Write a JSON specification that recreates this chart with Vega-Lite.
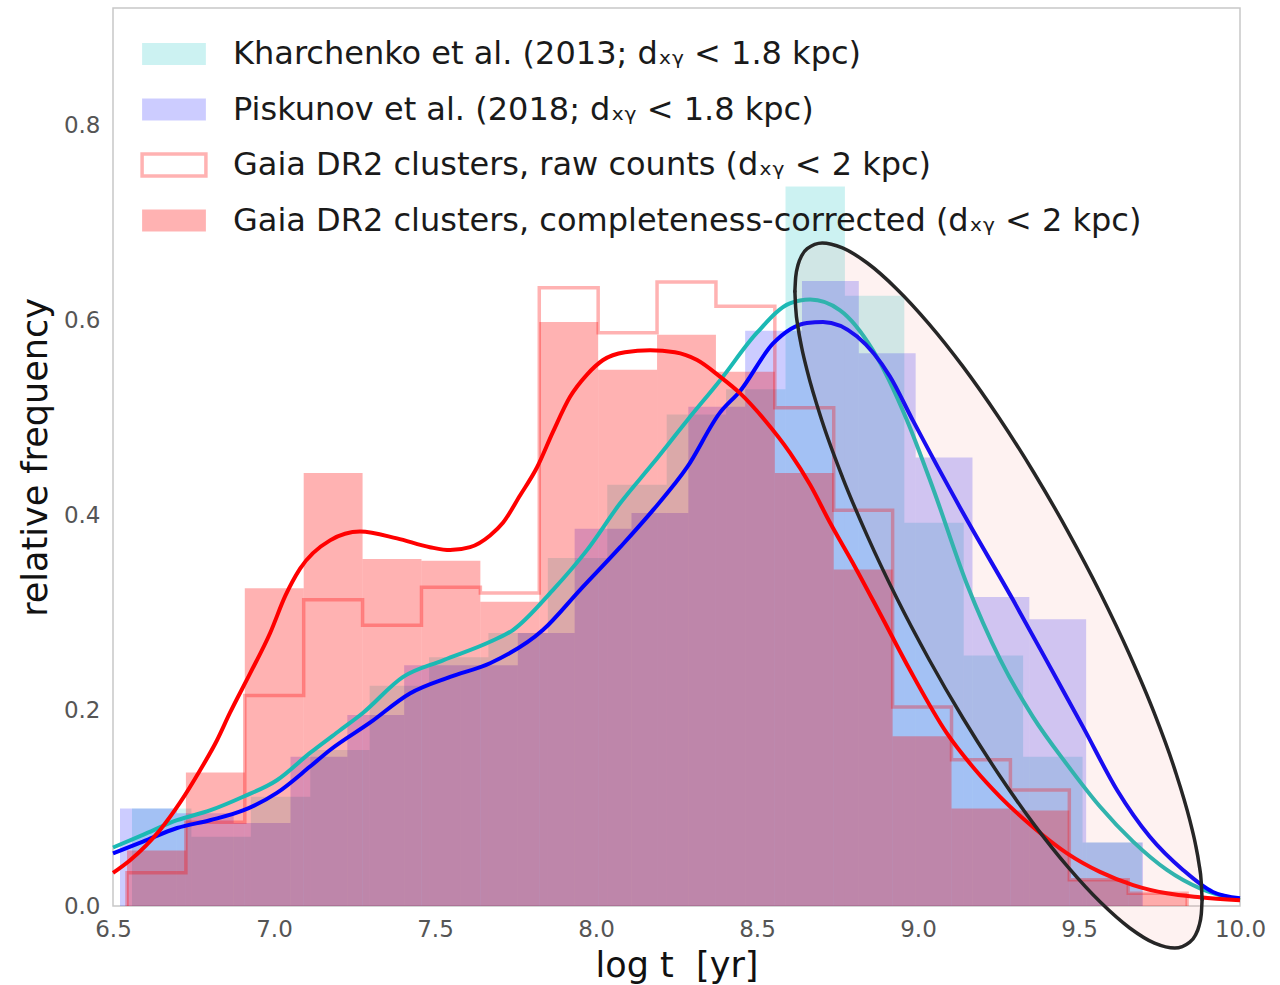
{
  "$schema": "https://vega.github.io/schema/vega-lite/v6.json",
  "width": 1127,
  "height": 898,
  "autosize": {"type": "none"},
  "padding": {"left": 113, "top": 8, "right": 40, "bottom": 79},
  "background": "white",
  "config": {
    "view": {"stroke": "#c8c8c8", "strokeWidth": 1.5},
    "axis": {"grid": false, "ticks": false, "domain": false, "labelFont": "DejaVu Sans", "labelFontSize": 23, "labelColor": "#555555", "titleFont": "DejaVu Sans", "titleFontSize": 35, "titleFontWeight": "normal", "titleColor": "#111111", "labelFlush": false, "labelOverlap": false}
  },
  "datasets": {
    "hist": [
      {"s": "Kharchenko et al. (2013; dₓᵧ < 1.8 kpc)", "lt": 6.559, "lt2": 6.7435, "f": 0.100},
      {"s": "Kharchenko et al. (2013; dₓᵧ < 1.8 kpc)", "lt": 6.7435, "lt2": 6.928, "f": 0.071},
      {"s": "Kharchenko et al. (2013; dₓᵧ < 1.8 kpc)", "lt": 6.928, "lt2": 7.1125, "f": 0.112},
      {"s": "Kharchenko et al. (2013; dₓᵧ < 1.8 kpc)", "lt": 7.1125, "lt2": 7.297, "f": 0.160},
      {"s": "Kharchenko et al. (2013; dₓᵧ < 1.8 kpc)", "lt": 7.297, "lt2": 7.4815, "f": 0.226},
      {"s": "Kharchenko et al. (2013; dₓᵧ < 1.8 kpc)", "lt": 7.4815, "lt2": 7.666, "f": 0.255},
      {"s": "Kharchenko et al. (2013; dₓᵧ < 1.8 kpc)", "lt": 7.666, "lt2": 7.8505, "f": 0.280},
      {"s": "Kharchenko et al. (2013; dₓᵧ < 1.8 kpc)", "lt": 7.8505, "lt2": 8.035, "f": 0.357},
      {"s": "Kharchenko et al. (2013; dₓᵧ < 1.8 kpc)", "lt": 8.035, "lt2": 8.2195, "f": 0.432},
      {"s": "Kharchenko et al. (2013; dₓᵧ < 1.8 kpc)", "lt": 8.2195, "lt2": 8.404, "f": 0.504},
      {"s": "Kharchenko et al. (2013; dₓᵧ < 1.8 kpc)", "lt": 8.404, "lt2": 8.5885, "f": 0.530},
      {"s": "Kharchenko et al. (2013; dₓᵧ < 1.8 kpc)", "lt": 8.5885, "lt2": 8.773, "f": 0.738},
      {"s": "Kharchenko et al. (2013; dₓᵧ < 1.8 kpc)", "lt": 8.773, "lt2": 8.9575, "f": 0.626},
      {"s": "Kharchenko et al. (2013; dₓᵧ < 1.8 kpc)", "lt": 8.9575, "lt2": 9.142, "f": 0.393},
      {"s": "Kharchenko et al. (2013; dₓᵧ < 1.8 kpc)", "lt": 9.142, "lt2": 9.3265, "f": 0.257},
      {"s": "Kharchenko et al. (2013; dₓᵧ < 1.8 kpc)", "lt": 9.3265, "lt2": 9.511, "f": 0.153},
      {"s": "Kharchenko et al. (2013; dₓᵧ < 1.8 kpc)", "lt": 9.511, "lt2": 9.6955, "f": 0.065},
      {"s": "Piskunov et al. (2018; dₓᵧ < 1.8 kpc)", "lt": 6.5217, "lt2": 6.6982, "f": 0.100},
      {"s": "Piskunov et al. (2018; dₓᵧ < 1.8 kpc)", "lt": 6.6982, "lt2": 6.8747, "f": 0.095},
      {"s": "Piskunov et al. (2018; dₓᵧ < 1.8 kpc)", "lt": 6.8747, "lt2": 7.0512, "f": 0.085},
      {"s": "Piskunov et al. (2018; dₓᵧ < 1.8 kpc)", "lt": 7.0512, "lt2": 7.2277, "f": 0.153},
      {"s": "Piskunov et al. (2018; dₓᵧ < 1.8 kpc)", "lt": 7.2277, "lt2": 7.4042, "f": 0.196},
      {"s": "Piskunov et al. (2018; dₓᵧ < 1.8 kpc)", "lt": 7.4042, "lt2": 7.5807, "f": 0.247},
      {"s": "Piskunov et al. (2018; dₓᵧ < 1.8 kpc)", "lt": 7.5807, "lt2": 7.7572, "f": 0.247},
      {"s": "Piskunov et al. (2018; dₓᵧ < 1.8 kpc)", "lt": 7.7572, "lt2": 7.9337, "f": 0.280},
      {"s": "Piskunov et al. (2018; dₓᵧ < 1.8 kpc)", "lt": 7.9337, "lt2": 8.1102, "f": 0.387},
      {"s": "Piskunov et al. (2018; dₓᵧ < 1.8 kpc)", "lt": 8.1102, "lt2": 8.2867, "f": 0.403},
      {"s": "Piskunov et al. (2018; dₓᵧ < 1.8 kpc)", "lt": 8.2867, "lt2": 8.4632, "f": 0.512},
      {"s": "Piskunov et al. (2018; dₓᵧ < 1.8 kpc)", "lt": 8.4632, "lt2": 8.6397, "f": 0.590},
      {"s": "Piskunov et al. (2018; dₓᵧ < 1.8 kpc)", "lt": 8.6397, "lt2": 8.8162, "f": 0.641},
      {"s": "Piskunov et al. (2018; dₓᵧ < 1.8 kpc)", "lt": 8.8162, "lt2": 8.9927, "f": 0.567},
      {"s": "Piskunov et al. (2018; dₓᵧ < 1.8 kpc)", "lt": 8.9927, "lt2": 9.1692, "f": 0.460},
      {"s": "Piskunov et al. (2018; dₓᵧ < 1.8 kpc)", "lt": 9.1692, "lt2": 9.3457, "f": 0.317},
      {"s": "Piskunov et al. (2018; dₓᵧ < 1.8 kpc)", "lt": 9.3457, "lt2": 9.5222, "f": 0.294},
      {"s": "Piskunov et al. (2018; dₓᵧ < 1.8 kpc)", "lt": 9.5222, "lt2": 9.6987, "f": 0.065},
      {"s": "Gaia DR2 clusters, completeness-corrected (dₓᵧ < 2 kpc)", "lt": 6.5435, "lt2": 6.7264, "f": 0.057},
      {"s": "Gaia DR2 clusters, completeness-corrected (dₓᵧ < 2 kpc)", "lt": 6.7264, "lt2": 6.9093, "f": 0.137},
      {"s": "Gaia DR2 clusters, completeness-corrected (dₓᵧ < 2 kpc)", "lt": 6.9093, "lt2": 7.0922, "f": 0.326},
      {"s": "Gaia DR2 clusters, completeness-corrected (dₓᵧ < 2 kpc)", "lt": 7.0922, "lt2": 7.2751, "f": 0.444},
      {"s": "Gaia DR2 clusters, completeness-corrected (dₓᵧ < 2 kpc)", "lt": 7.2751, "lt2": 7.458, "f": 0.356},
      {"s": "Gaia DR2 clusters, completeness-corrected (dₓᵧ < 2 kpc)", "lt": 7.458, "lt2": 7.6409, "f": 0.354},
      {"s": "Gaia DR2 clusters, completeness-corrected (dₓᵧ < 2 kpc)", "lt": 7.6409, "lt2": 7.8238, "f": 0.312},
      {"s": "Gaia DR2 clusters, completeness-corrected (dₓᵧ < 2 kpc)", "lt": 7.8238, "lt2": 8.0067, "f": 0.599},
      {"s": "Gaia DR2 clusters, completeness-corrected (dₓᵧ < 2 kpc)", "lt": 8.0067, "lt2": 8.1896, "f": 0.550},
      {"s": "Gaia DR2 clusters, completeness-corrected (dₓᵧ < 2 kpc)", "lt": 8.1896, "lt2": 8.3725, "f": 0.586},
      {"s": "Gaia DR2 clusters, completeness-corrected (dₓᵧ < 2 kpc)", "lt": 8.3725, "lt2": 8.5554, "f": 0.548},
      {"s": "Gaia DR2 clusters, completeness-corrected (dₓᵧ < 2 kpc)", "lt": 8.5554, "lt2": 8.7383, "f": 0.444},
      {"s": "Gaia DR2 clusters, completeness-corrected (dₓᵧ < 2 kpc)", "lt": 8.7383, "lt2": 8.9212, "f": 0.345},
      {"s": "Gaia DR2 clusters, completeness-corrected (dₓᵧ < 2 kpc)", "lt": 8.9212, "lt2": 9.1041, "f": 0.174},
      {"s": "Gaia DR2 clusters, completeness-corrected (dₓᵧ < 2 kpc)", "lt": 9.1041, "lt2": 9.287, "f": 0.100},
      {"s": "Gaia DR2 clusters, completeness-corrected (dₓᵧ < 2 kpc)", "lt": 9.287, "lt2": 9.4699, "f": 0.098},
      {"s": "Gaia DR2 clusters, completeness-corrected (dₓᵧ < 2 kpc)", "lt": 9.4699, "lt2": 9.6528, "f": 0.027},
      {"s": "Gaia DR2 clusters, completeness-corrected (dₓᵧ < 2 kpc)", "lt": 9.6528, "lt2": 9.8357, "f": 0.013}
    ],
    "raw": [
      {"k": 0, "lt": 6.5435, "f": 0},
      {"k": 1, "lt": 6.5435, "f": 0.034},
      {"k": 2, "lt": 6.7264, "f": 0.086},
      {"k": 3, "lt": 6.9093, "f": 0.216},
      {"k": 4, "lt": 7.0922, "f": 0.314},
      {"k": 5, "lt": 7.2751, "f": 0.288},
      {"k": 6, "lt": 7.458, "f": 0.327},
      {"k": 7, "lt": 7.6409, "f": 0.321},
      {"k": 8, "lt": 7.8238, "f": 0.634},
      {"k": 9, "lt": 8.0067, "f": 0.588},
      {"k": 10, "lt": 8.1896, "f": 0.640},
      {"k": 11, "lt": 8.3725, "f": 0.615},
      {"k": 12, "lt": 8.5554, "f": 0.511},
      {"k": 13, "lt": 8.7383, "f": 0.406},
      {"k": 14, "lt": 8.9212, "f": 0.204},
      {"k": 15, "lt": 9.1041, "f": 0.150},
      {"k": 16, "lt": 9.287, "f": 0.119},
      {"k": 17, "lt": 9.4699, "f": 0.027},
      {"k": 18, "lt": 9.6528, "f": 0.013},
      {"k": 19, "lt": 9.8357, "f": 0}
    ],
    "kde": [
      {"s": "K", "lt": 6.5, "f": 0.060}, {"s": "K", "lt": 6.593, "f": 0.073}, {"s": "K", "lt": 6.699, "f": 0.088}, {"s": "K", "lt": 6.801, "f": 0.098}, {"s": "K", "lt": 6.904, "f": 0.112}, {"s": "K", "lt": 7.009, "f": 0.129}, {"s": "K", "lt": 7.112, "f": 0.157}, {"s": "K", "lt": 7.2, "f": 0.179}, {"s": "K", "lt": 7.276, "f": 0.198}, {"s": "K", "lt": 7.401, "f": 0.235}, {"s": "K", "lt": 7.525, "f": 0.252}, {"s": "K", "lt": 7.671, "f": 0.271}, {"s": "K", "lt": 7.742, "f": 0.283}, {"s": "K", "lt": 7.866, "f": 0.324}, {"s": "K", "lt": 7.972, "f": 0.365}, {"s": "K", "lt": 8.075, "f": 0.413}, {"s": "K", "lt": 8.177, "f": 0.454}, {"s": "K", "lt": 8.283, "f": 0.498}, {"s": "K", "lt": 8.385, "f": 0.539}, {"s": "K", "lt": 8.5, "f": 0.588}, {"s": "K", "lt": 8.602, "f": 0.618}, {"s": "K", "lt": 8.665, "f": 0.622}, {"s": "K", "lt": 8.758, "f": 0.611}, {"s": "K", "lt": 8.86, "f": 0.570}, {"s": "K", "lt": 8.966, "f": 0.498}, {"s": "K", "lt": 9.047, "f": 0.428}, {"s": "K", "lt": 9.152, "f": 0.330}, {"s": "K", "lt": 9.255, "f": 0.253}, {"s": "K", "lt": 9.357, "f": 0.194}, {"s": "K", "lt": 9.463, "f": 0.145}, {"s": "K", "lt": 9.565, "f": 0.102}, {"s": "K", "lt": 9.668, "f": 0.066}, {"s": "K", "lt": 9.773, "f": 0.037}, {"s": "K", "lt": 9.876, "f": 0.018}, {"s": "K", "lt": 10.0, "f": 0.006},
      {"s": "P", "lt": 6.5, "f": 0.054}, {"s": "P", "lt": 6.593, "f": 0.066}, {"s": "P", "lt": 6.699, "f": 0.080}, {"s": "P", "lt": 6.801, "f": 0.088}, {"s": "P", "lt": 6.904, "f": 0.098}, {"s": "P", "lt": 7.009, "f": 0.116}, {"s": "P", "lt": 7.112, "f": 0.143}, {"s": "P", "lt": 7.174, "f": 0.160}, {"s": "P", "lt": 7.298, "f": 0.188}, {"s": "P", "lt": 7.422, "f": 0.218}, {"s": "P", "lt": 7.547, "f": 0.235}, {"s": "P", "lt": 7.671, "f": 0.249}, {"s": "P", "lt": 7.835, "f": 0.283}, {"s": "P", "lt": 7.95, "f": 0.324}, {"s": "P", "lt": 8.075, "f": 0.368}, {"s": "P", "lt": 8.177, "f": 0.406}, {"s": "P", "lt": 8.283, "f": 0.450}, {"s": "P", "lt": 8.385, "f": 0.506}, {"s": "P", "lt": 8.447, "f": 0.528}, {"s": "P", "lt": 8.55, "f": 0.577}, {"s": "P", "lt": 8.655, "f": 0.598}, {"s": "P", "lt": 8.705, "f": 0.599}, {"s": "P", "lt": 8.811, "f": 0.584}, {"s": "P", "lt": 8.913, "f": 0.543}, {"s": "P", "lt": 8.984, "f": 0.498}, {"s": "P", "lt": 9.14, "f": 0.403}, {"s": "P", "lt": 9.295, "f": 0.314}, {"s": "P", "lt": 9.432, "f": 0.232}, {"s": "P", "lt": 9.512, "f": 0.184}, {"s": "P", "lt": 9.618, "f": 0.119}, {"s": "P", "lt": 9.72, "f": 0.071}, {"s": "P", "lt": 9.823, "f": 0.037}, {"s": "P", "lt": 9.916, "f": 0.0144}, {"s": "P", "lt": 10.0, "f": 0.008},
      {"s": "G", "lt": 6.5, "f": 0.034}, {"s": "G", "lt": 6.553, "f": 0.047}, {"s": "G", "lt": 6.646, "f": 0.078}, {"s": "G", "lt": 6.708, "f": 0.106}, {"s": "G", "lt": 6.77, "f": 0.139}, {"s": "G", "lt": 6.823, "f": 0.170}, {"s": "G", "lt": 6.863, "f": 0.198}, {"s": "G", "lt": 6.925, "f": 0.238}, {"s": "G", "lt": 6.988, "f": 0.280}, {"s": "G", "lt": 7.035, "f": 0.318}, {"s": "G", "lt": 7.081, "f": 0.346}, {"s": "G", "lt": 7.174, "f": 0.375}, {"s": "G", "lt": 7.267, "f": 0.384}, {"s": "G", "lt": 7.382, "f": 0.377}, {"s": "G", "lt": 7.484, "f": 0.368}, {"s": "G", "lt": 7.547, "f": 0.365}, {"s": "G", "lt": 7.609, "f": 0.368}, {"s": "G", "lt": 7.671, "f": 0.380}, {"s": "G", "lt": 7.711, "f": 0.393}, {"s": "G", "lt": 7.764, "f": 0.421}, {"s": "G", "lt": 7.817, "f": 0.450}, {"s": "G", "lt": 7.866, "f": 0.486}, {"s": "G", "lt": 7.919, "f": 0.522}, {"s": "G", "lt": 7.972, "f": 0.545}, {"s": "G", "lt": 8.022, "f": 0.560}, {"s": "G", "lt": 8.09, "f": 0.568}, {"s": "G", "lt": 8.168, "f": 0.570}, {"s": "G", "lt": 8.245, "f": 0.568}, {"s": "G", "lt": 8.314, "f": 0.560}, {"s": "G", "lt": 8.385, "f": 0.543}, {"s": "G", "lt": 8.447, "f": 0.526}, {"s": "G", "lt": 8.525, "f": 0.498}, {"s": "G", "lt": 8.602, "f": 0.465}, {"s": "G", "lt": 8.665, "f": 0.432}, {"s": "G", "lt": 8.727, "f": 0.393}, {"s": "G", "lt": 8.804, "f": 0.348}, {"s": "G", "lt": 8.882, "f": 0.300}, {"s": "G", "lt": 8.975, "f": 0.242}, {"s": "G", "lt": 9.09, "f": 0.177}, {"s": "G", "lt": 9.177, "f": 0.140}, {"s": "G", "lt": 9.255, "f": 0.112}, {"s": "G", "lt": 9.357, "f": 0.081}, {"s": "G", "lt": 9.463, "f": 0.054}, {"s": "G", "lt": 9.565, "f": 0.035}, {"s": "G", "lt": 9.668, "f": 0.0215}, {"s": "G", "lt": 9.773, "f": 0.013}, {"s": "G", "lt": 9.876, "f": 0.009}, {"s": "G", "lt": 10.0, "f": 0.006}
    ],
    "ellipse": [
      {"lt": 8.6177, "up": 0.6304, "lo": 0.6304},
      {"lt": 8.6202, "up": 0.6451, "lo": 0.6131},
      {"lt": 8.6273, "up": 0.6574, "lo": 0.5938},
      {"lt": 8.6391, "up": 0.6671, "lo": 0.5723},
      {"lt": 8.6559, "up": 0.6741, "lo": 0.5489},
      {"lt": 8.7025, "up": 0.6801, "lo": 0.4969},
      {"lt": 8.7655, "up": 0.6750, "lo": 0.4397},
      {"lt": 8.8435, "up": 0.6592, "lo": 0.3788},
      {"lt": 8.9339, "up": 0.6329, "lo": 0.3158},
      {"lt": 9.0339, "up": 0.5971, "lo": 0.2531},
      {"lt": 9.1404, "up": 0.5529, "lo": 0.1923},
      {"lt": 9.25, "up": 0.5015, "lo": 0.1354},
      {"lt": 9.3596, "up": 0.4446, "lo": 0.0840},
      {"lt": 9.4661, "up": 0.3838, "lo": 0.0398},
      {"lt": 9.5661, "up": 0.3211, "lo": 0.0040},
      {"lt": 9.6565, "up": 0.2582, "lo": -0.0223},
      {"lt": 9.7345, "up": 0.1972, "lo": -0.0381},
      {"lt": 9.7975, "up": 0.1399, "lo": -0.0432},
      {"lt": 9.8441, "up": 0.0880, "lo": -0.0371},
      {"lt": 9.8609, "up": 0.0646, "lo": -0.0302},
      {"lt": 9.8727, "up": 0.0431, "lo": -0.0205},
      {"lt": 9.8798, "up": 0.0238, "lo": -0.0082},
      {"lt": 9.8823, "up": 0.0066, "lo": 0.0066}
    ]
  },
  "layer": [
    {
      "data": {"name": "hist"},
      "mark": {"type": "rect"},
      "encoding": {
        "x": {"field": "lt", "type": "quantitative", "scale": {"domain": [6.5, 10], "nice": false, "zero": false}, "axis": {"values": [6.5, 7, 7.5, 8, 8.5, 9, 9.5, 10], "format": ".1f", "title": "log t\u00a0 [yr]", "labelPadding": 12, "titlePadding": 7}},
        "x2": {"field": "lt2"},
        "y": {"field": "f", "type": "quantitative", "scale": {"domain": [0, 0.921], "nice": false}, "axis": {"values": [0, 0.2, 0.4, 0.6, 0.8], "format": ".1f", "title": "relative frequency", "labelPadding": 13, "titlePadding": 10}},
        "y2": {"datum": 0},
        "fill": {
          "field": "s", "type": "nominal",
          "scale": {
            "domain": ["Kharchenko et al. (2013; dₓᵧ < 1.8 kpc)", "Piskunov et al. (2018; dₓᵧ < 1.8 kpc)", "Gaia DR2 clusters, raw counts (dₓᵧ < 2 kpc)", "Gaia DR2 clusters, completeness-corrected (dₓᵧ < 2 kpc)"],
            "range": ["rgba(0,191,191,0.2)", "rgba(0,0,255,0.2)", "#ffffff", "rgba(255,0,0,0.3)"]
          },
          "legend": {
            "title": null, "orient": "none", "legendX": 45, "legendY": 30, "padding": 0,
            "symbolType": "M-2.9,-1H2.9V1H-2.9Z", "symbolSize": 484, "symbolStrokeWidth": 0,
            "labelFont": "DejaVu Sans", "labelFontSize": 32, "labelColor": "#1a1a1a", "labelLimit": 2000, "labelOffset": 43, "rowPadding": 19.5,
            "encode": {"symbols": {"update": {"stroke": {"signal": "indexof(datum.label, 'raw') >= 0 ? 'rgba(255,0,0,0.3)' : 'transparent'"}, "strokeWidth": {"value": 3.5}}}}
          }
        }
      }
    },
    {
      "data": {"name": "raw"},
      "mark": {"type": "line", "interpolate": "step-after", "stroke": "#ff0000", "strokeOpacity": 0.3, "strokeWidth": 3.5},
      "encoding": {"x": {"field": "lt", "type": "quantitative"}, "y": {"field": "f", "type": "quantitative"}, "order": {"field": "k"}}
    },
    {
      "data": {"name": "kde"},
      "transform": [{"filter": "datum.s === 'K'"}],
      "mark": {"type": "line", "interpolate": "monotone", "stroke": "#1bb9b4", "strokeWidth": 4},
      "encoding": {"x": {"field": "lt", "type": "quantitative"}, "y": {"field": "f", "type": "quantitative"}}
    },
    {
      "data": {"name": "kde"},
      "transform": [{"filter": "datum.s === 'P'"}],
      "mark": {"type": "line", "interpolate": "monotone", "stroke": "#0000ff", "strokeWidth": 4},
      "encoding": {"x": {"field": "lt", "type": "quantitative"}, "y": {"field": "f", "type": "quantitative"}}
    },
    {
      "data": {"name": "kde"},
      "transform": [{"filter": "datum.s === 'G'"}],
      "mark": {"type": "line", "interpolate": "monotone", "stroke": "#ff0000", "strokeWidth": 4},
      "encoding": {"x": {"field": "lt", "type": "quantitative"}, "y": {"field": "f", "type": "quantitative"}}
    },
    {
      "data": {"name": "ellipse"},
      "mark": {"type": "area", "interpolate": "monotone", "fill": "#fa8072", "fillOpacity": 0.1},
      "encoding": {"x": {"field": "lt", "type": "quantitative"}, "y": {"field": "lo", "type": "quantitative"}, "y2": {"field": "up"}}
    },
    {
      "data": {"name": "ellipse"},
      "mark": {"type": "line", "interpolate": "monotone", "stroke": "#262626", "strokeWidth": 3.5, "strokeCap": "round"},
      "encoding": {"x": {"field": "lt", "type": "quantitative"}, "y": {"field": "up", "type": "quantitative"}}
    },
    {
      "data": {"name": "ellipse"},
      "mark": {"type": "line", "interpolate": "monotone", "stroke": "#262626", "strokeWidth": 3.5, "strokeCap": "round"},
      "encoding": {"x": {"field": "lt", "type": "quantitative"}, "y": {"field": "lo", "type": "quantitative"}}
    }
  ]
}
